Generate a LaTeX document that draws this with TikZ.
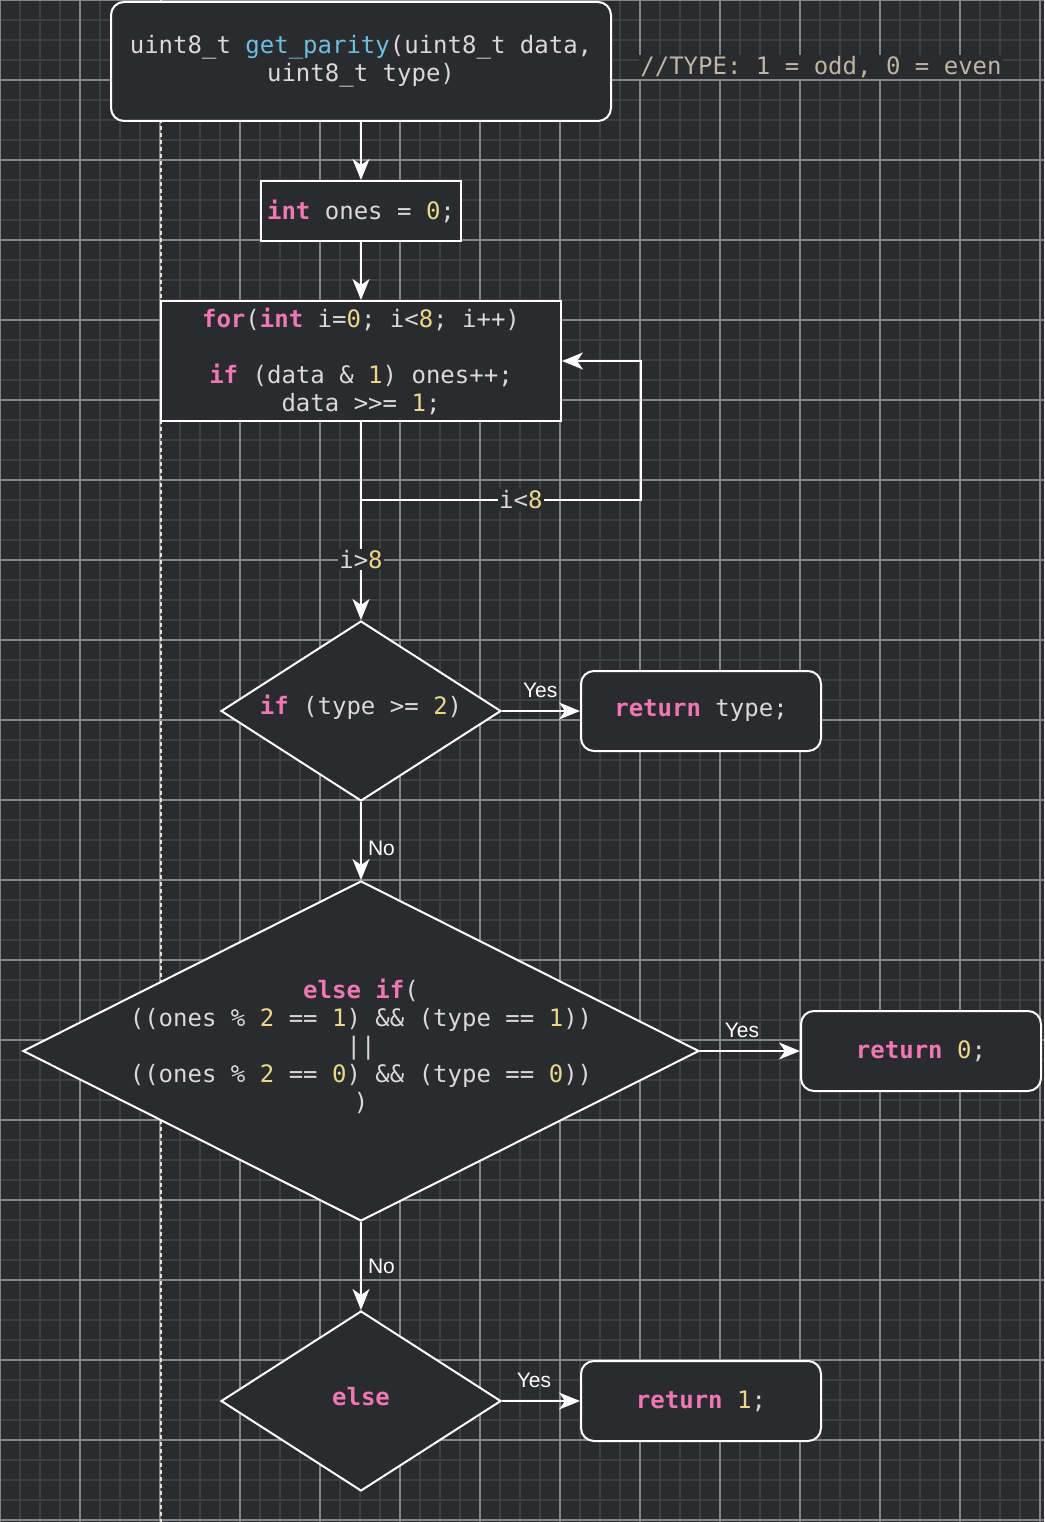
\documentclass[tikz,border=0pt]{standalone}
\usepackage{fontspec}
\setmainfont{Liberation Sans}
\setmonofont{DejaVu Sans Mono}
\usetikzlibrary{shapes.geometric,arrows.meta,calc}

\definecolor{canvas}{HTML}{2A2B2E}
\definecolor{gridminor}{HTML}{3E3F42}
\definecolor{gridmajor}{HTML}{85868A}
\definecolor{codefg}{HTML}{D9D9D9}
\definecolor{codekw}{HTML}{EF77B3}
\definecolor{codenum}{HTML}{E9D88A}
\definecolor{codefn}{HTML}{6DBFE0}
\definecolor{codecmt}{HTML}{BDB5A5}
\definecolor{guide}{HTML}{E8E2D6}

% syntax colouring helpers
\newcommand{\kw}[1]{{\color{codekw}\bfseries #1}}
\newcommand{\cnum}[1]{{\color{codenum}#1}}
\newcommand{\cfn}[1]{{\color{codefn}#1}}

\tikzset{
  code/.style={font=\ttfamily\fontsize{24}{28}\selectfont, text=codefg, align=center},
  box/.style={draw=white, line width=2pt, fill=canvas, code, inner sep=0pt},
  rbox/.style={box, rounded corners=13pt},
  cond/.style={diamond, draw=white, line width=2pt, fill=canvas, inner sep=0pt},
  flow/.style={draw=white, line width=2pt, -{Stealth[length=21pt,width=17pt,inset=6pt]}},
  yesno/.style={font=\fontsize{21}{24}\selectfont, text=white, inner sep=0pt},
  tag/.style={code, fill=canvas, inner sep=1.5pt},
}

\begin{document}
\begin{tikzpicture}[x=1pt, y=-1pt]
  % canvas and grid
  \fill[canvas] (0,0) rectangle (1044,1522);
  \useasboundingbox (0,0) rectangle (1044,1522);
  \draw[gridminor, line width=2pt, step=20pt] (0,0) grid (1044,1522);
  \draw[gridmajor, line width=1.2pt, step=80pt] (0,0) grid (1044,1522);

  % vertical dashed guide
  \draw[guide, line width=2pt, dash pattern=on 4pt off 3pt] (160.5,0) -- (160.5,1522);

  % nodes
  \node[rbox, minimum width=500pt, minimum height=119pt] (head) at (361,61.5)
    {uint8\_t \cfn{get\_parity}(uint8\_t data,\\uint8\_t type)};
  \node[code, text=codecmt, fill=canvas, inner sep=1pt] (cmt) at (821,67)
    {//TYPE: 1 = odd, 0 = even};

  \node[box, minimum width=200pt, minimum height=60pt] (init) at (361,211)
    {\kw{int} ones = \cnum{0};};
  \node[box, minimum width=400pt, minimum height=120pt] (loop) at (361,361)
    {\kw{for}(\kw{int} i=\cnum{0}; i<\cnum{8}; i++)\\\mbox{}\\
     \kw{if} (data \& \cnum{1}) ones++;\\data >>= \cnum{1};};

  \node[cond, minimum width=280pt, minimum height=180pt] (d1) at (361,711) {};
  \node[code] (d1txt) at (361,707) {\kw{if} (type >= \cnum{2})};
  \node[rbox, minimum width=240pt, minimum height=80pt] (rtype) at (701,711)
    {\kw{return} type;};

  \node[cond, minimum width=676pt, minimum height=340pt] (d2) at (361,1051) {};
  \node[code] (d2txt) at (361,1046)
    {\kw{else if}(\\
     ((ones \% \cnum{2} == \cnum{1}) \&\& (type == \cnum{1}))\\
     ||\\
     ((ones \% \cnum{2} == \cnum{0}) \&\& (type == \cnum{0}))\\
     )};
  \node[rbox, minimum width=240pt, minimum height=80pt] (r0) at (921,1051)
    {\kw{return} \cnum{0};};

  \node[cond, minimum width=280pt, minimum height=180pt] (d3) at (361,1401) {};
  \node[code] (d3txt) at (361,1397) {\kw{else}};
  \node[rbox, minimum width=240pt, minimum height=80pt] (r1) at (701,1401)
    {\kw{return} \cnum{1};};

  % connectors
  \coordinate (split) at (361,500);
  \coordinate (loopturn) at (641,500);

  \draw[flow] (head) -- (init);
  \draw[flow] (init) -- (loop);
  \draw[flow] (loop) -- node[tag, pos=0.695] (lblexit) {i>\cnum{8}} (d1);
  \draw[flow] (loop.south) -- (split) -- node[tag, pos=0.571] (lblloop) {i<\cnum{8}} (loopturn) |- (loop.east);

  \draw[flow] (d1) -- node[yesno, pos=0.49, yshift=21pt] (y1) {Yes} (rtype);
  \draw[flow] (d1) -- node[yesno, pos=0.59, anchor=west, xshift=6pt] (n1) {No} (d2);
  \draw[flow] (d2) -- node[yesno, pos=0.42, yshift=21pt] (y2) {Yes} (r0);
  \draw[flow] (d2) -- node[yesno, pos=0.5, anchor=west, xshift=6pt] (n2) {No} (d3);
  \draw[flow] (d3) -- node[yesno, pos=0.41, yshift=21pt] (y3) {Yes} (r1);
\end{tikzpicture}
\end{document}
